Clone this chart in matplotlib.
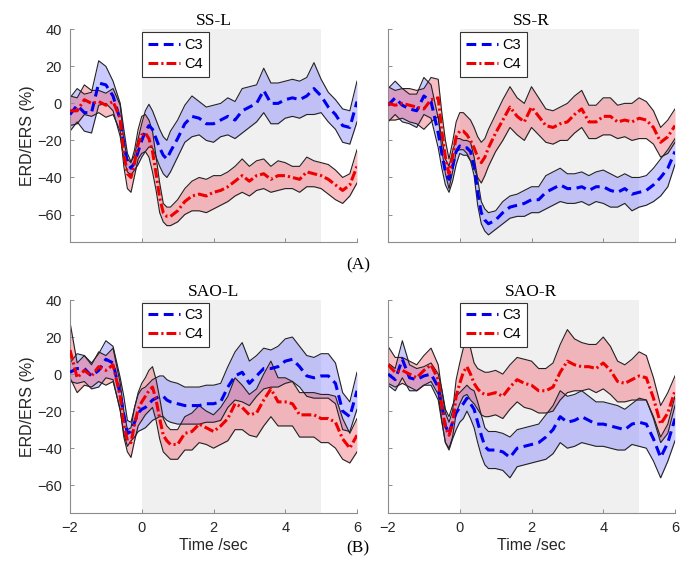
import numpy as np
import matplotlib
matplotlib.use("Agg")
import matplotlib.pyplot as plt

plt.rcParams['font.family'] = ['Liberation Sans', 'DejaVu Sans']

# time grid (s), finer around the cue
T = [-2.0, -1.8, -1.6, -1.4, -1.2, -1.0, -0.8, -0.6,
     -0.5, -0.4, -0.3, -0.2, -0.1, 0.0, 0.1, 0.2, 0.3, 0.4, 0.5, 0.6, 0.7, 0.8,
     1.0, 1.2, 1.4, 1.6, 1.8, 2.0, 2.2, 2.4, 2.6, 2.8, 3.0, 3.2, 3.4, 3.6, 3.8, 4.0,
     4.2, 4.4, 4.6, 4.8, 5.0, 5.2, 5.4, 5.6, 5.8, 6.0]

# SS-L
ssl_c3 = [-6, -1, -5, -5, 11, 10, 4, -9,
          -22, -32, -35, -32, -26, -20, -15, -12, -14, -19, -24, -28, -30, -26,
          -19, -11, -7, -8, -11, -11, -9, -7, -9, -4, -2, 0, 7, 0, 0, 2,
          3, 2, 4, 8, 4, -2, -6, -12, -13, 1]
ssl_c3_err = [9, 9, 10, 11, 12, 10, 8, 9,
              8, 5, 3.5, 4, 7, 9, 11, 11.5, 10, 10, 10, 10, 10, 11,
              10, 10, 11, 9, 9, 10, 9, 10, 10, 12, 11, 10, 12, 11, 11, 10,
              10, 10, 10, 14, 9, 8, 8, 9, 9, 11]
ssl_c4 = [-4, -4, 2, 0, 1, -1, 1, -8,
          -27, -38, -40, -32, -22, -17, -16, -19, -26, -38, -51, -59, -61, -61,
          -58, -53, -50, -49, -50, -48, -47, -45, -42, -39, -42, -39, -38, -41, -39, -39,
          -40, -41, -37, -38, -39, -41, -44, -47, -44, -34]
ssl_c4_err = [8, 7, 8, 7, 6, 6.5, 7, 7,
              7, 8, 8, 7, 8, 10, 10, 10, 11, 9, 8, 5, 5, 5,
              6, 7, 8, 9, 9, 9, 8, 8, 8, 9, 8, 8, 8, 7, 8, 7,
              6, 7, 8, 7, 7, 8, 8, 7, 6, 9]

# SS-R
ssr_c3 = [-1, 3, -1, -3, -4, 4, 1, -16,
          -27, -37, -41, -34, -26, -23, -24, -24, -26, -34, -48, -59, -63, -65,
          -63, -59, -56, -55, -54, -52, -52, -48, -46, -44, -46, -46, -45, -47, -45, -45,
          -47, -48, -46, -49, -48, -47, -44, -40, -35, -26]
ssr_c3_err = [9, 9, 9, 8, 9, 10, 9, 8,
              8, 7, 7, 8, 7, 4, 4, 4, 5, 5, 7, 6, 6, 6,
              5, 6, 6, 6, 7, 7, 7, 9, 9, 9, 8, 8, 8, 8, 8, 9,
              9, 8, 8, 9, 8, 8, 9, 10, 10, 7]
ssr_c4 = [0, -1, 0, -1, -2, -3, 2, 3,
          -15, -29, -38, -29, -18, -15, -15, -17, -20, -24, -29, -32, -29, -24,
          -16, -9, -2, -7, -10, -2, -7, -12, -13, -11, -10, -6, -3, -10, -10, -7,
          -7, -10, -9, -10, -8, -9, -13, -21, -18, -12]
ssr_c4_err = [9, 8, 8, 9, 9, 11, 12, 10,
              10, 9, 8, 8, 8, 10, 10, 10, 11, 11, 11, 11, 10, 10,
              10, 11, 11, 10, 10, 11, 10, 9, 9, 9, 10, 10, 10, 9, 9, 10,
              10, 9, 9, 10, 11, 10, 9, 8, 9, 9]

# SAO-L
saol_c3 = [1, 3, 3, -1, 2, 8, 6, -11,
           -22, -32, -31, -26, -21, -19, -18, -16, -14, -13, -12, -12, -14, -15,
           -16, -17, -17, -17, -16, -16, -15, -7, -1, 1, -5, -1, 3, 3, 4, 7,
           8, 4, -1, -2, -1, -1, -5, -20, -23, -9]
saol_c3_err = [5, 8, 7, 7, 9, 10, 9, 9,
               10, 7, 5, 8, 10, 11, 11, 11, 11, 11, 11, 11, 11, 11,
               11, 10, 10, 10, 10, 10, 10, 11, 13, 16, 12, 11, 11, 10, 11, 12,
               12, 11, 11, 11, 12, 12, 11, 10, 8, 10]
saol_c4 = [13, -2, 2, -1, 4, 2, 5, -12,
           -27, -36, -37, -27, -19, -15, -12, -9, -7, -14, -24, -33, -36, -38,
           -38, -32, -31, -27, -29, -31, -28, -24, -16, -18, -22, -21, -14, -8, -15, -15,
           -16, -22, -22, -22, -24, -24, -26, -35, -40, -33]
saol_c4_err = [15, 8, 8, 6, 8, 8, 9, 7,
               7, 6, 8, 9, 9, 10, 10, 11, 11, 11, 11, 9, 8, 8,
               8, 9, 10, 10, 9, 9, 10, 12, 14, 12, 11, 13, 14, 15, 13, 13,
               12, 12, 12, 12, 13, 13, 14, 11, 8, 9]

# SAO-R
saor_c3 = [0, -3, 8, -2, -3, -1, 0, -7,
           -17, -28, -32, -26, -21, -18, -16, -13, -16, -19, -26, -33, -39, -41,
           -41, -42, -45, -40, -39, -38, -37, -34, -30, -23, -26, -25, -23, -25, -27, -27,
           -28, -29, -30, -27, -26, -27, -35, -45, -37, -24]
saor_c3_err = [6, 6, 10, 7, 6, 5, 6, 7,
               9, 9, 9, 9, 9, 8, 8, 7, 8, 10, 11, 11, 10, 10,
               10, 10, 11, 10, 10, 10, 10, 12, 13, 14, 14, 14, 14, 13, 12, 12,
               12, 12, 11, 11, 13, 13, 12, 11, 10, 12]
saor_c4 = [5, 1, 2, 0, -2, 2, 5, -3,
           -17, -29, -33, -27, -12, -5, 1, 4, 0, -5, -8, -10, -11, -11,
           -10, -12, -7, -3, -5, -6, -9, -9, -7, 1, 7, 5, 4, 4, 3, 6,
           2, -4, -5, -3, -1, -2, -13, -27, -21, -9]
saor_c4_err = [10, 8, 7, 7, 7, 8, 9, 8,
               8, 8, 7, 7, 9, 11, 13, 15, 14, 11, 11, 12, 12, 12,
               12, 12, 12, 12, 13, 13, 12, 12, 13, 15, 17, 14, 13, 12, 13, 14,
               13, 11, 10, 11, 13, 12, 11, 10, 11, 8]

panels = [
    ('SS-L', ssl_c3, ssl_c3_err, ssl_c4, ssl_c4_err),
    ('SS-R', ssr_c3, ssr_c3_err, ssr_c4, ssr_c4_err),
    ('SAO-L', saol_c3, saol_c3_err, saol_c4, saol_c4_err),
    ('SAO-R', saor_c3, saor_c3_err, saor_c4, saor_c4_err),
]

fig = plt.figure(figsize=(6.99, 5.68), dpi=100)
W, H = 699, 568
lefts = [70, 388]
tops = [29.3, 300]
aw, ah = 287, 213

t = np.array(T)
for i, (name, c3, e3, c4, e4) in enumerate(panels):
    row, col = divmod(i, 2)
    ax = fig.add_axes([lefts[col] / W, 1 - (tops[row] + ah) / H, aw / W, ah / H])
    c3, e3, c4, e4 = map(np.array, (c3, e3, c4, e4))

    ax.axvspan(0, 5, color='#f0f0f0', lw=0, zorder=0)
    ax.fill_between(t, c3 - e3, c3 + e3, color='#6868ff', alpha=0.35, lw=0, zorder=1)
    ax.fill_between(t, c4 - e4, c4 + e4, color='#f05a6c', alpha=0.4, lw=0, zorder=1)
    for m, e in ((c3, e3), (c4, e4)):
        ax.plot(t, m + e, color='#222222', lw=0.8, zorder=2)
        ax.plot(t, m - e, color='#222222', lw=0.8, zorder=2)
    ax.plot(t, c3, color='#0000ee', lw=2.2, dashes=(3.2, 1.8), label='C3', zorder=3)
    ax.plot(t, c4, color='#ee0000', lw=2.2, dashes=(3.2, 1.0, 0.7, 1.0), label='C4', zorder=3)

    ax.set_xlim(-2, 6)
    ax.set_ylim(-75, 40)
    ax.set_xticks([-2, 0, 2, 4, 6])
    ax.set_yticks([-60, -40, -20, 0, 20, 40])
    for s in ('top', 'right'):
        ax.spines[s].set_visible(False)
    for s in ('left', 'bottom'):
        ax.spines[s].set_color('#8c8c8c')
        ax.spines[s].set_linewidth(0.8)
    ax.tick_params(direction='in', length=3, width=0.7, color='#8c8c8c',
                   labelsize=10.5, labelcolor='#262626', pad=6)
    if row == 0:
        ax.tick_params(labelbottom=False)
    else:
        ax.set_xlabel('Time /sec', fontsize=11.5, color='#262626', labelpad=2)
    if col == 1:
        ax.tick_params(labelleft=False)
    else:
        ax.set_ylabel('ERD/ERS (%)', fontsize=11.5, color='#262626', labelpad=1)
    ax.set_title(name, family='Liberation Serif', fontsize=12.5, pad=3)

    leg = ax.legend(loc='upper left', bbox_to_anchor=(0.25, 0.988), borderaxespad=0,
                    fontsize=10.5, handlelength=2.2, handletextpad=0.3, borderpad=0.4,
                    labelspacing=0.35, fancybox=False, framealpha=1)
    leg.get_frame().set_edgecolor('#333333')
    leg.get_frame().set_linewidth(0.8)

fig.text(358 / W, 1 - 265 / H, '(A)', family='Liberation Serif', fontsize=12.5,
         ha='center', va='center')
fig.text(358 / W, 1 - 548 / H, '(B)', family='Liberation Serif', fontsize=12.5,
         ha='center', va='center')

fig.savefig('out.png', dpi=100)
